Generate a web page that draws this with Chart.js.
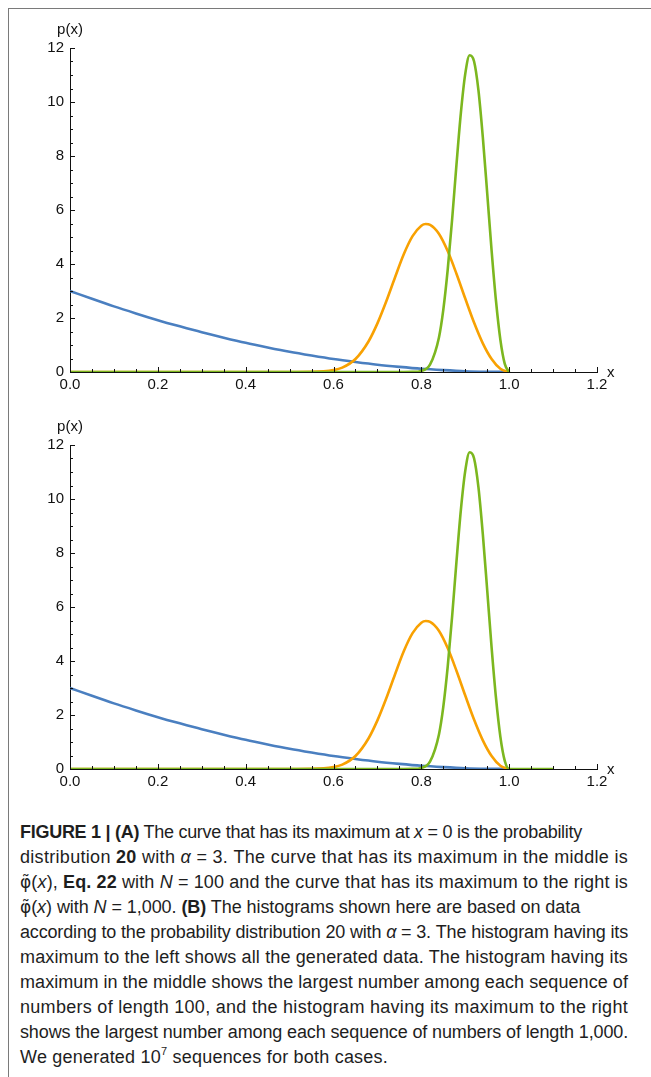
<!DOCTYPE html>
<html>
<head>
<meta charset="utf-8">
<script src="https://cdn.jsdelivr.net/npm/chart.js@4.4.0/dist/chart.umd.min.js"></script>
<style>
  html, body { margin: 0; padding: 0; background: #fff; }
  body { width: 651px; height: 1077px; position: relative; overflow: hidden; }
  #frame { position: absolute; left: 8px; top: 8px; right: -2px; bottom: -2px;
           border-top: 1.5px solid #7a7a7a; border-left: 1.5px solid #7a7a7a; }
  .panel { position: absolute; left: 0; width: 651px; height: 400px; }
  #caption { position: absolute; left: 20px; top: 820px; width: 620px;
             font-family: "Liberation Sans", Arial, sans-serif;
             font-size: 18px; line-height: 25px; color: #1e1e1e; }
  #caption div { white-space: nowrap; }
  #caption sup { font-size: 11px; vertical-align: 8px; line-height: 0; }
  .phi { font-family: "DejaVu Sans", sans-serif; font-size: 17px; }
</style>
</head>
<body>
<div id="frame"></div>
<div class="panel" style="top:0"><canvas id="chartA" width="651" height="400"></canvas></div>
<div class="panel" style="top:397px"><canvas id="chartB" width="651" height="400"></canvas></div>
<div id="caption">
  <div data-w="562"><b>FIGURE 1 | (A)</b> The curve that has its maximum at <i>x</i> = 0 is the probability</div>
  <div data-w="608">distribution <b>20</b> with <i>α</i> = 3. The curve that has its maximum in the middle is</div>
  <div data-w="608"><span class="phi">φ̃</span>(<i>x</i>), <b>Eq. 22</b> with <i>N</i> = 100 and the curve that has its maximum to the right is</div>
  <div data-w="560"><span class="phi">φ̃</span>(<i>x</i>) with <i>N</i> = 1,000. <b>(B)</b> The histograms shown here are based on data</div>
  <div data-w="608">according to the probability distribution 20 with <i>α</i> = 3. The histogram having its</div>
  <div data-w="608">maximum to the left shows all the generated data. The histogram having its</div>
  <div data-w="608">maximum in the middle shows the largest number among each sequence of</div>
  <div data-w="608">numbers of length 100, and the histogram having its maximum to the right</div>
  <div data-w="608">shows the largest number among each sequence of numbers of length 1,000.</div>
  <div data-w="368">We generated 10<sup>7</sup> sequences for both cases.</div>
</div>
<script>
// values
let blueX = [0, 0.05, 0.1, 0.15, 0.2, 0.25, 0.3, 0.35, 0.4, 0.45, 0.5, 0.55, 0.6, 0.65, 0.7, 0.75, 0.8, 0.85, 0.9, 0.95, 1.0]
let blueY = [3.0, 2.71, 2.43, 2.17, 1.92, 1.69, 1.47, 1.27, 1.08, 0.91, 0.75, 0.61, 0.48, 0.37, 0.27, 0.19, 0.12, 0.07, 0.03, 0.01, 0]

let orangeX = [0, 0.5, 0.55, 0.6, 0.62, 0.65, 0.68, 0.7, 0.72, 0.74, 0.76, 0.78, 0.8, 0.81, 0.82, 0.84, 0.86, 0.88, 0.9, 0.92, 0.94, 0.96, 0.98, 1.0]
let orangeY = [0, 0, 0.005, 0.07, 0.16, 0.48, 1.14, 1.80, 2.61, 3.50, 4.36, 5.03, 5.42, 5.48, 5.45, 5.12, 4.48, 3.64, 2.72, 1.83, 1.06, 0.48, 0.12, 0]

let greenX = [0, 0.76, 0.78, 0.8, 0.82, 0.84, 0.85, 0.86, 0.87, 0.88, 0.89, 0.9, 0.91, 0.92, 0.93, 0.94, 0.95, 0.96, 0.97, 0.98, 0.99, 1.0]
let greenY = [0, 0, 0.003, 0.04, 0.28, 1.27, 2.30, 3.78, 5.63, 7.68, 9.59, 11.04, 11.73, 11.51, 10.44, 8.70, 6.62, 4.50, 2.63, 1.19, 0.30, 0]

// panel B histograms: same shapes, zero line of the last one runs on to 1.1
let histGreenX = greenX.concat([1.1])
let histGreenY = greenY.concat([0])

let xTicks = [0, 0.2, 0.4, 0.6, 0.8, 1.0, 1.2]
let yTicks = [0, 2, 4, 6, 8, 10, 12]

let blue = '#4a7fc0'
let orange = '#f8a102'
let green = '#7cb71f'
let ink = '#111'
let labelFamily = "Arial, 'Liberation Sans', sans-serif"
let tickFont = {family: labelFamily, size: 15}

function toPoints(xs, ys) {
  let pts = []
  for (let i = 0; i < xs.length; ++i) pts.push({x: xs[i], y: ys[i]})
  return pts
}

function curve(xs, ys, colour, order) {
  return {
    data: toPoints(xs, ys),
    borderColor: colour,
    backgroundColor: colour,
    borderWidth: 2.6,
    pointRadius: 0,
    fill: false,
    cubicInterpolationMode: 'monotone',
    order: order,
  }
}

// Mathematica style axes: ticks pointing inwards, labels p(x) and x
let axisDecor = {
  id: 'axisDecor',
  afterDraw(chart) {
    let ctx = chart.ctx
    let xs = chart.scales.x, ys = chart.scales.y
    let x0 = xs.left, y0 = ys.bottom
    ctx.save()
    ctx.strokeStyle = ink
    ctx.lineWidth = 1
    ctx.beginPath()
    for (let v = 0; v <= 1.2001; v += 0.05) {
      let major = Math.abs(v / 0.2 - Math.round(v / 0.2)) < 1e-6
      let px = Math.round(xs.getPixelForValue(v)) + 0.5
      ctx.moveTo(px, y0)
      ctx.lineTo(px, y0 - (major ? 5 : 3))
    }
    for (let v = 0; v <= 12.001; v += 0.5) {
      let major = Math.abs(v / 2 - Math.round(v / 2)) < 1e-6
      let py = Math.round(ys.getPixelForValue(v)) + 0.5
      ctx.moveTo(x0, py)
      ctx.lineTo(x0 + (major ? 5 : 3), py)
    }
    ctx.stroke()
    ctx.fillStyle = ink
    ctx.font = '15px ' + labelFamily
    ctx.textAlign = 'center'
    ctx.textBaseline = 'middle'
    ctx.fillText('p(x)', x0, ys.top - 18)
    ctx.textAlign = 'left'
    ctx.fillText('x', xs.right + 10, y0 + 1)
    ctx.restore()
  },
}

function makeChart(id, datasets) {
  return new Chart(document.getElementById(id), {
    type: 'line',
    data: {datasets: datasets},
    options: {
      responsive: false,
      animation: false,
      events: [],
      layout: {padding: {left: 0, top: 48, right: 54, bottom: 0}},
      plugins: {legend: {display: false}, tooltip: {enabled: false}},
      scales: {
        x: {
          type: 'linear',
          min: 0,
          max: 1.2,
          afterFit(scale) { scale.height = 28 },
          afterBuildTicks(scale) { scale.ticks = xTicks.map(v => ({value: v})) },
          grid: {display: false, drawTicks: false},
          border: {display: true, color: ink, width: 1},
          ticks: {color: ink, font: tickFont, padding: 4, maxRotation: 0,
                  callback: v => Number(v).toFixed(1)},
        },
        y: {
          type: 'linear',
          min: 0,
          max: 12,
          afterFit(scale) { scale.width = 70 },
          afterBuildTicks(scale) { scale.ticks = yTicks.map(v => ({value: v})) },
          grid: {display: false, drawTicks: false},
          border: {display: true, color: ink, width: 1},
          ticks: {color: ink, font: tickFont, padding: 6},
        },
      },
    },
    plugins: [axisDecor],
  })
}

makeChart('chartA', [
  curve(blueX, blueY, blue, 3),
  curve(orangeX, orangeY, orange, 2),
  curve(greenX, greenY, green, 1),
])

makeChart('chartB', [
  curve(blueX, blueY, blue, 3),
  curve(orangeX, orangeY, orange, 2),
  curve(histGreenX, histGreenY, green, 1),
])

// fit each caption line to the width it has in the printed figure
for (let line of document.querySelectorAll('#caption div')) {
  let target = Number(line.dataset.w)
  line.style.display = 'inline-block'
  let natural = line.getBoundingClientRect().width
  let chars = line.textContent.length
  line.style.letterSpacing = ((target - natural) / chars).toFixed(3) + 'px'
  line.style.display = 'block'
}
</script>
</body>
</html>
